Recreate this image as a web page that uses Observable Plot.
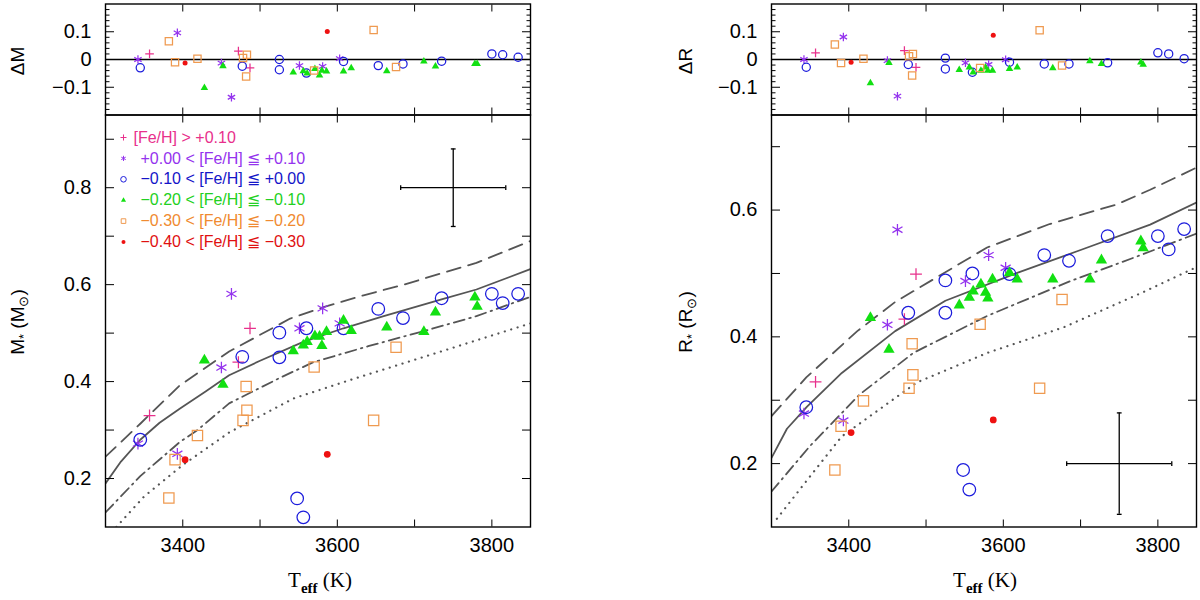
<!DOCTYPE html>
<html><head><meta charset="utf-8">
<script src="https://cdn.jsdelivr.net/npm/d3@7"></script>
<script src="https://cdn.jsdelivr.net/npm/@observablehq/plot@0.6"></script>
<style>
html,body{margin:0;padding:0;background:#fff;}
#wrap{position:relative;width:1200px;height:600px;overflow:hidden;background:#fff;}
.ttl{position:absolute;white-space:nowrap;transform:translate(-50%,-50%) rotate(-90deg);font-family:"Liberation Sans",Arial,sans-serif;font-size:19px;color:#000;line-height:1;}
.ttl sub{font-size:13px;vertical-align:-4px;}
.xt{position:absolute;white-space:nowrap;transform:translate(-50%,-50%);font-family:"Liberation Serif","Times New Roman",serif;font-size:21px;color:#000;line-height:1;}
.xt sub{font-size:15px;font-weight:bold;vertical-align:-6px;}
</style>
</head><body><div id="wrap"></div>
<script>
// ---------------- data ----------------
// [Fe/H] > +0.10  (plus)
const tPlus  = [3357, 3472, 3487];
const mPlus  = [0.33, 0.44, 0.51];
const rPlus  = [0.329, 0.428, 0.499];
const dmPlus = [0.02, 0.03, -0.03];
const drPlus = [0.024, 0.032, -0.028];
// +0.00 < [Fe/H] <= +0.10 (asterisk)
const tAst  = [3342, 3393, 3450, 3463, 3551, 3581, 3603];
const mAst  = [0.272, 0.251, 0.429, 0.581, 0.51, 0.551, 0.52];
const rAst  = [0.279, 0.268, 0.419, 0.569, 0.488, 0.529, 0.509];
const dmAst = [0.0, 0.096, -0.013, -0.136, -0.022, -0.025, 0.003];
const drAst = [0.0, 0.081, -0.004, -0.132, -0.012, -0.018, -0.001];
// -0.10 < [Fe/H] <= +0.00 (open circle)
const tCirc  = [3345, 3477, 3525, 3525, 3560, 3608, 3653, 3685, 3735, 3800, 3814, 3834, 3548, 3556];
const mCirc  = [0.28, 0.451, 0.501, 0.45, 0.51, 0.51, 0.55, 0.531, 0.572, 0.581, 0.562, 0.581, 0.159, 0.12];
const rCirc  = [0.289, 0.438, 0.489, 0.438, 0.5, 0.499, 0.529, 0.52, 0.559, 0.559, 0.538, 0.57, 0.19, 0.159];
const dmCirc = [-0.03, -0.024, 0.0, -0.037, -0.049, -0.007, -0.022, -0.016, -0.006, 0.02, 0.017, 0.008, null, null];
const drCirc = [-0.028, -0.018, 0.005, -0.034, -0.046, -0.01, -0.016, -0.016, -0.012, 0.024, 0.02, 0.003, null, null];
// -0.20 < [Fe/H] <= -0.10 (filled triangle)
const tTri  = [3428, 3452, 3543, 3556, 3561, 3571, 3577, 3580, 3586, 3608, 3618, 3664, 3712, 3727, 3778, 3781];
const mTri  = [0.444, 0.394, 0.463, 0.475, 0.482, 0.494, 0.493, 0.474, 0.503, 0.526, 0.505, 0.512, 0.503, 0.543, 0.574, 0.555];
const rTri  = [0.43, 0.38, 0.45, 0.462, 0.472, 0.483, 0.47, 0.461, 0.491, 0.501, 0.491, 0.491, 0.491, 0.521, 0.551, 0.54];
const dmTri = [-0.102, -0.024, -0.046, -0.042, -0.05, -0.034, -0.057, -0.04, -0.043, -0.043, -0.031, -0.042, -0.007, -0.025, -0.016, -0.016];
const drTri = [-0.085, -0.012, -0.037, -0.028, -0.046, -0.04, -0.028, -0.04, -0.04, -0.034, -0.028, -0.031, -0.006, -0.016, -0.01, -0.018];
// -0.30 < [Fe/H] <= -0.20 (open square)
const tSq  = [3382, 3390, 3419, 3478, 3483, 3482, 3570, 3647, 3676];
const mSq  = [0.16, 0.239, 0.289, 0.32, 0.341, 0.39, 0.43, 0.32, 0.471];
const rSq  = [0.19, 0.259, 0.299, 0.319, 0.34, 0.389, 0.42, 0.319, 0.459];
const dmSq = [0.066, -0.01, 0.003, 0.005, 0.017, -0.061, -0.04, 0.106, -0.027];
const drSq = [0.054, -0.013, 0.003, 0.012, 0.02, -0.058, -0.031, 0.105, -0.022];
// -0.40 < [Fe/H] <= -0.30 (filled dot)
const tDot  = [3403, 3587];
const mDot  = [0.239, 0.25];
const rDot  = [0.249, 0.269];
const dmDot = [-0.013, 0.101];
const drDot = [-0.01, 0.087];

// model curves, mass panel
const solidMT   = [3300, 3320, 3345, 3370, 3396, 3430, 3460, 3500, 3556, 3608, 3660, 3736, 3780, 3850];
const solidM    = [0.19, 0.235, 0.28, 0.315, 0.344, 0.38, 0.413, 0.443, 0.482, 0.51, 0.535, 0.57, 0.59, 0.632];
const dashMT    = [3300, 3345, 3396, 3460, 3539, 3581, 3634, 3686, 3780, 3850];
const dashM     = [0.245, 0.313, 0.392, 0.462, 0.53, 0.553, 0.578, 0.6, 0.645, 0.69];
const dashdotMT = [3300, 3345, 3396, 3419, 3460, 3526, 3569, 3640, 3716, 3780, 3850];
const dashdotM  = [0.13, 0.205, 0.275, 0.3, 0.355, 0.408, 0.44, 0.473, 0.506, 0.535, 0.575];
const dotMT     = [3314, 3350, 3400, 3460, 3543, 3620, 3700, 3780, 3850];
const dotM      = [0.1, 0.163, 0.228, 0.295, 0.365, 0.405, 0.445, 0.485, 0.52];
// model curves, radius panel
const solidRT   = [3300, 3320, 3346, 3391, 3460, 3525, 3618, 3700, 3790, 3850];
const solidR    = [0.209, 0.255, 0.29, 0.343, 0.409, 0.457, 0.501, 0.537, 0.577, 0.612];
const dashRT    = [3300, 3345, 3411, 3460, 3579, 3660, 3747, 3790, 3850];
const dashR     = [0.275, 0.336, 0.409, 0.455, 0.541, 0.578, 0.609, 0.632, 0.667];
const dashdotRT = [3300, 3350, 3414, 3484, 3579, 3687, 3780, 3850];
const dashdotR  = [0.156, 0.228, 0.309, 0.375, 0.433, 0.488, 0.53, 0.563];
const dotRT     = [3307, 3350, 3391, 3488, 3580, 3678, 3780, 3850];
const dotR      = [0.113, 0.18, 0.243, 0.328, 0.375, 0.415, 0.47, 0.51];

// typical error bars
const errT = [3750], errM = [0.80], errR = [0.20], errDT = [68], errDM = [0.08], errDR = [0.08];

// ticks
const xTicks = [3400, 3500, 3600, 3700, 3800];
const xLabels = [3400, 3600, 3800];
const resMajor = [-0.1, 0, 0.1];
const resMinor = [-0.18, -0.16, -0.14, -0.12, -0.08, -0.06, -0.04, -0.02, 0.02, 0.04, 0.06, 0.08, 0.12, 0.14, 0.16, 0.18];
const mTicks = [0.2, 0.3, 0.4, 0.5, 0.6, 0.7, 0.8, 0.9];
const mLabels = [0.2, 0.4, 0.6, 0.8];
const rTicks = [0.2, 0.3, 0.4, 0.5, 0.6, 0.7];
const rLabels = [0.2, 0.4, 0.6];

const legendLabels = ["[Fe/H] > +0.10", "+0.00 < [Fe/H] \u2266 +0.10", "\u22120.10 < [Fe/H] \u2266 +0.00",
  "\u22120.20 < [Fe/H] \u2266 \u22120.10", "\u22120.30 < [Fe/H] \u2266 \u22120.20", "\u22120.40 < [Fe/H] \u2266 \u22120.30"];

// ---------------- styles ----------------
const groups = [
  {T: tPlus, M: mPlus, R: rPlus, dM: dmPlus, dR: drPlus, symbol: "plus", color: "#e8308c", text: "#e8308c", filled: false, rMain: 3.9, rRes: 2.9, rLeg: 2.1},
  {T: tAst, M: mAst, R: rAst, dM: dmAst, dR: drAst, symbol: "asterisk", color: "#9433ee", text: "#9433ee", filled: false, rMain: 5.5, rRes: 4.0, rLeg: 2.4},
  {T: tCirc, M: mCirc, R: rCirc, dM: dmCirc, dR: drCirc, symbol: "circle", color: "#1c1cdc", text: "#1414c8", filled: false, rMain: 6.3, rRes: 4.1, rLeg: 2.8},
  {T: tTri, M: mTri, R: rTri, dM: dmTri, dR: drTri, symbol: "triangle", color: "#12e012", text: "#22d022", filled: true, rMain: 4.2, rRes: 2.8, rLeg: 1.9},
  {T: tSq, M: mSq, R: rSq, dM: dmSq, dR: drSq, symbol: "square", color: "#ef9a50", text: "#f08a30", filled: false, rMain: 5.8, rRes: 4.1, rLeg: 2.6},
  {T: tDot, M: mDot, R: rDot, dM: dmDot, dR: drDot, symbol: "circle", color: "#ee1111", text: "#e01010", filled: true, rMain: 3.4, rRes: 2.5, rLeg: 2.0}
];
const lineColor = "#555";
const curveStyles = [
  {strokeWidth: 1.8},
  {strokeWidth: 1.8, strokeDasharray: "14,8"},
  {strokeWidth: 1.8, strokeDasharray: "11,5,1.5,5"},
  {strokeWidth: 2.2, strokeDasharray: "0.1,6.6", strokeLinecap: "round"}
];
const vbar = {draw(ctx, size) { const h = Math.sqrt(size) / 2; ctx.moveTo(0, -h); ctx.lineTo(0, h); }};
const hbar = {draw(ctx, size) { const h = Math.sqrt(size) / 2; ctx.moveTo(-h, 0); ctx.lineTo(h, 0); }};

const wrap = document.getElementById("wrap");
const rows = (T, V) => T.map((t, i) => ({t, v: V[i]})).filter(d => d.v != null);
const fmt = d => d === 0 ? "0" : (d < 0 ? "\u2212" : "") + Math.abs(d).toFixed(1);

function axisMarks({yTicks, yLabels, yMinor, showX, ySize}) {
  const m = [
    Plot.axisX(xTicks, {anchor: "bottom", tickSize: -7, tickFormat: () => "", label: null}),
    Plot.axisX(xTicks, {anchor: "top", tickSize: -7, tickFormat: () => "", label: null}),
    Plot.axisY(yTicks, {anchor: "left", tickSize: -ySize, tickFormat: () => "", label: null}),
    Plot.axisY(yTicks, {anchor: "right", tickSize: -ySize, tickFormat: () => "", label: null}),
    Plot.axisY(yLabels, {anchor: "left", tickSize: 0, tickPadding: 14, tickFormat: fmt, label: null})
  ];
  if (yMinor) {
    m.push(Plot.axisY(yMinor, {anchor: "left", tickSize: -4.5, tickFormat: () => "", label: null}));
    m.push(Plot.axisY(yMinor, {anchor: "right", tickSize: -4.5, tickFormat: () => "", label: null}));
  }
  if (showX) m.push(Plot.axisX(xLabels, {anchor: "bottom", tickSize: 0, tickPadding: 11, tickFormat: d => String(d), label: null}));
  return m;
}

function groupDots(key, rKey) {
  return groups.map(g => Plot.dot(rows(g.T, g[key]), {
    x: "t", y: "v", symbol: g.symbol, r: g[rKey],
    fill: g.filled ? g.color : "none", stroke: g.filled ? "none" : g.color, strokeWidth: 1.25
  }));
}

function mount(p, left, top) {
  p.style.position = "absolute"; p.style.left = left + "px"; p.style.top = top + "px";
  p.style.maxWidth = "none";
  wrap.appendChild(p);
}

const baseStyle = {background: "none", overflow: "visible", fontFamily: "'Liberation Sans', Arial, sans-serif", fontSize: "20px", color: "black"};

function residualPanel(left, key) {
  const p = Plot.plot({
    width: 540, height: 130, marginLeft: 105, marginRight: 10, marginTop: 3.5, marginBottom: 15.5,
    x: {domain: [3300, 3850]}, y: {domain: [-0.2, 0.2]},
    style: baseStyle,
    marks: [
      Plot.ruleY([0], {stroke: "black", strokeWidth: 1.3}),
      ...groupDots(key, "rRes"),
      ...axisMarks({yTicks: resMajor, yLabels: resMajor, yMinor: resMinor, showX: false, ySize: 9}),
      Plot.frame({stroke: "black", strokeWidth: 1.4})
    ]
  });
  mount(p, left, 0);
}

function mainPanel(left, key, domain, yTicks, yLabels, curves, errY, errDY, withLegend) {
  const marks = [];
  curves.forEach((c, i) => marks.push(Plot.line(rows(c[0], c[1]), {x: "t", y: "v", stroke: lineColor, clip: true, ...curveStyles[i]})));
  marks.push(...groupDots(key, "rMain"));
  // error cross
  const e = errT.map((t, i) => ({t, v: errY[i], dt: errDT[i], dv: errDY[i]}));
  marks.push(Plot.ruleY(e, {y: "v", x1: d => d.t - d.dt, x2: d => d.t + d.dt, stroke: "black", strokeWidth: 1.3}));
  marks.push(Plot.ruleX(e, {x: "t", y1: d => d.v - d.dv, y2: d => d.v + d.dv, stroke: "black", strokeWidth: 1.3}));
  marks.push(Plot.dot(e.flatMap(d => [{t: d.t - d.dt, v: d.v}, {t: d.t + d.dt, v: d.v}]), {x: "t", y: "v", symbol: vbar, r: 2.7, fill: "none", stroke: "black", strokeWidth: 1.3}));
  marks.push(Plot.dot(e.flatMap(d => [{t: d.t, v: d.v - d.dv}, {t: d.t, v: d.v + d.dv}]), {x: "t", y: "v", symbol: hbar, r: 2.7, fill: "none", stroke: "black", strokeWidth: 1.3}));
  if (withLegend) {
    legendLabels.forEach((lab, i) => {
      const g = groups[i];
      const dy = 22.5 + 20.9 * i;
      marks.push(Plot.dot([lab], {frameAnchor: "top-left", dx: 18, dy, symbol: g.symbol, r: g.rLeg,
        fill: g.filled ? g.color : "none", stroke: g.filled ? "none" : g.color, strokeWidth: 1}));
      marks.push(Plot.text([lab], {text: d => d, frameAnchor: "top-left", dx: i === 0 ? 28 : 35, dy, textAnchor: "start", lineAnchor: "middle",
        fill: g.text, fontSize: 16, fontFamily: "'Liberation Sans', Arial, sans-serif"}));
    });
  }
  marks.push(...axisMarks({yTicks, yLabels, yMinor: null, showX: true, ySize: 9}));
  marks.push(Plot.frame({stroke: "black", strokeWidth: 1.4}));
  const p = Plot.plot({
    width: 540, height: 500, marginLeft: 105, marginRight: 10, marginTop: 14.5, marginBottom: 73.5,
    x: {domain: [3300, 3850]}, y: {domain},
    style: baseStyle,
    marks
  });
  mount(p, left, 100);
}

mainPanel(0, "M", [0.1, 0.95], mTicks, mLabels,
  [[solidMT, solidM], [dashMT, dashM], [dashdotMT, dashdotM], [dotMT, dotM]], errM, errDM, true);
mainPanel(666, "R", [0.1, 0.75], rTicks, rLabels,
  [[solidRT, solidR], [dashRT, dashR], [dashdotRT, dashdotR], [dotRT, dotR]], errR, errDR, false);
residualPanel(0, "dM");
residualPanel(666, "dR");

// axis titles
function addTitle(cls, html, x, y) {
  const d = document.createElement("div"); d.className = cls; d.innerHTML = html;
  d.style.left = x + "px"; d.style.top = y + "px"; wrap.appendChild(d);
}
addTitle("ttl", "\u0394M", 17, 61);
addTitle("ttl", "M<sub>*</sub> (M<sub>\u2299</sub>)", 19, 322);
addTitle("ttl", "\u0394R", 685, 61);
addTitle("ttl", "R<sub>*</sub> (R<sub>\u2299</sub>)", 687, 322);
addTitle("xt", "T<sub>eff</sub> (K)", 320, 583);
addTitle("xt", "T<sub>eff</sub> (K)", 985, 583);
</script>
</body></html>
